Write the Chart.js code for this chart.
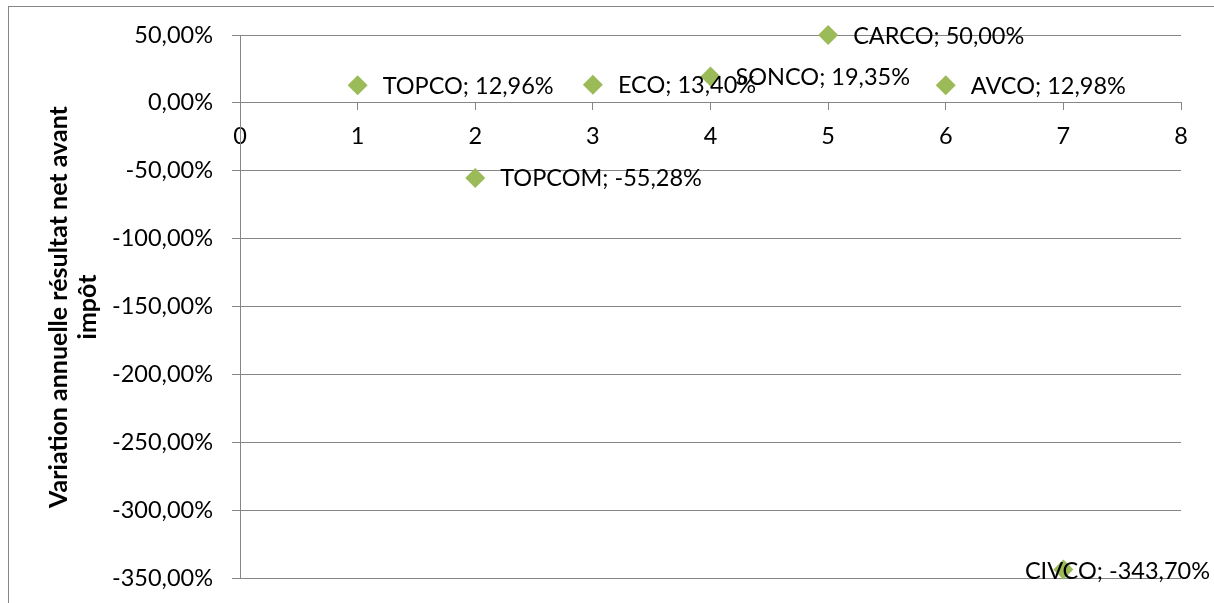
<!DOCTYPE html>
<html>
<head>
<meta charset="utf-8">
<script src="https://cdn.jsdelivr.net/npm/chart.js@4"></script>
<style>
  html, body { margin: 0; padding: 0; background: #fff; }
  #wrap { width: 1214px; height: 603px; position: relative; }
</style>
</head>
<body>
<div id="wrap"><canvas id="chart"></canvas></div>
<script>
// companies and their yearly change in pre-tax net result (%)
const companies = ['TOPCO', 'TOPCOM', 'ECO', 'SONCO', 'CARCO', 'AVCO', 'CIVCO'];
const positions = [1, 2, 3, 4, 5, 6, 7];
const variations = [12.96, -55.28, 13.40, 19.35, 50.00, 12.98, -343.70];
const yTicks = [50, 0, -50, -100, -150, -200, -250, -300, -350];
const xTicks = [0, 1, 2, 3, 4, 5, 6, 7, 8];
const yTitle = ['Variation annuelle résultat net avant', 'impôt'];

const FONT = 'Lato, "Open Sans", sans-serif';
const FONT_SIZE = 23.5;
const GREY = '#868686';
const GREEN = '#9bbb59';

const fmtPct = v => v.toFixed(2).replace('.', ',') + '%';

const points = positions.map((x, i) => ({ x: x, y: variations[i], name: companies[i] }));

// outer frame + rotated axis title
const framePlugin = {
    id: 'frame',
    beforeDraw(chart) {
        const ctx = chart.ctx;
        ctx.save();
        ctx.strokeStyle = GREY;
        ctx.lineWidth = 1;
        ctx.strokeRect(8.5, 6.5, 1220, 620);
        ctx.restore();
    },
    afterDraw(chart) {
        const ctx = chart.ctx;
        ctx.save();
        ctx.translate(0, 307);
        ctx.rotate(-Math.PI / 2);
        ctx.fillStyle = '#000';
        ctx.font = 'bold 25px ' + FONT;
        ctx.textAlign = 'center';
        ctx.textBaseline = 'alphabetic';
        ctx.fillText(yTitle[0], 0, 67);
        ctx.fillText(yTitle[1], 0, 96);
        ctx.restore();
    }
};

// "NAME; value" next to each marker, pulled back left when it would run off the edge
const labelPlugin = {
    id: 'pointLabels',
    afterDatasetsDraw(chart) {
        const ctx = chart.ctx;
        const meta = chart.getDatasetMeta(0);
        ctx.save();
        ctx.fillStyle = '#000';
        ctx.font = FONT_SIZE + 'px ' + FONT;
        ctx.textAlign = 'left';
        ctx.textBaseline = 'middle';
        meta.data.forEach((el, i) => {
            const p = points[i];
            const text = p.name + '; ' + fmtPct(p.y);
            const w = ctx.measureText(text).width;
            let x = el.x + 25;
            let y = el.y + 1;
            if (x + w > chart.width - 4) {
                x = chart.width - 4 - w;
                y = el.y + 2;
            }
            ctx.fillText(text, x, y);
        });
        ctx.restore();
    }
};

new Chart(document.getElementById('chart'), {
    type: 'scatter',
    data: {
        datasets: [{
            data: points,
            pointStyle: 'rectRot',
            pointRadius: 10,
            pointHoverRadius: 10,
            backgroundColor: GREEN,
            borderColor: GREEN,
            borderWidth: 0,
            clip: false
        }]
    },
    options: {
        responsive: true,
        maintainAspectRatio: false,
        animation: false,
        events: [],
        layout: { padding: { left: 0, top: 35, right: 33, bottom: 25 } },
        plugins: {
            legend: { display: false },
            tooltip: { enabled: false }
        },
        scales: {
            x: {
                type: 'linear',
                position: { y: 0 },
                min: 0,
                max: 8,
                afterBuildTicks: s => { s.ticks = xTicks.map(v => ({ value: v })); },
                afterFit: s => {
                    s.paddingLeft = 0; s.paddingRight = 0;
                    s.paddingTop = 0; s.paddingBottom = 0;
                },
                ticks: {
                    color: '#000',
                    font: { family: FONT, size: FONT_SIZE },
                    padding: 12,
                    maxRotation: 0
                },
                grid: {
                    drawOnChartArea: false,
                    drawTicks: true,
                    tickLength: 7,
                    color: GREY
                },
                border: { color: GREY, width: 1 }
            },
            y: {
                type: 'linear',
                min: -350,
                max: 50,
                afterBuildTicks: s => { s.ticks = yTicks.map(v => ({ value: v })); },
                afterFit: s => {
                    s.width = 240;
                    s.paddingTop = 0; s.paddingBottom = 0;
                },
                ticks: {
                    color: '#000',
                    font: { family: FONT, size: FONT_SIZE },
                    padding: 19,
                    callback: v => fmtPct(v)
                },
                grid: {
                    color: GREY,
                    tickLength: 8
                },
                border: { color: GREY, width: 1 }
            }
        }
    },
    plugins: [framePlugin, labelPlugin]
});
</script>
</body>
</html>
